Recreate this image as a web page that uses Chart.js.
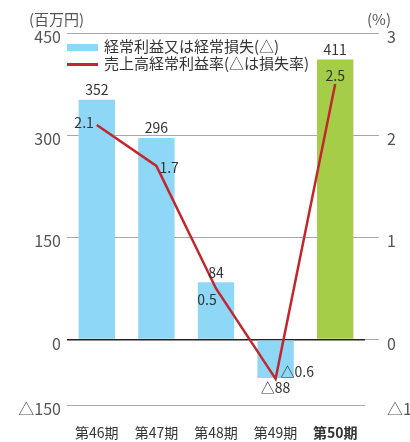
<!DOCTYPE html>
<html lang="ja">
<head>
<meta charset="utf-8">
<script src="https://cdn.jsdelivr.net/npm/chart.js@4/dist/chart.umd.min.js"></script>
<style>
    body { margin: 0; background: #fff; }
    #wrap { position: relative; width: 410px; height: 442px; font-family: "Noto Sans CJK JP", sans-serif; }
    #wrap canvas { position: absolute; left: 0; top: 0; }
    .note { position: absolute; color: #555; font-size: 15px; line-height: 18px; white-space: nowrap; }
    .legend { position: absolute; left: 67px; color: #333; font-size: 15px; line-height: 18px; white-space: nowrap; }
    .legend i { display: inline-block; width: 31px; margin-right: 6px; vertical-align: middle; }
</style>
</head>
<body>
<div id="wrap">
    <canvas id="chart" width="410" height="442"></canvas>
    <div class="note" style="left:29px; top:10px;">(百万円)</div>
    <div class="note" style="left:367px; top:10px;">(%)</div>
    <div class="legend" style="top:37px;"><i style="height:7px; background:#8fd7f7;"></i>経常利益又は経常損失(△)</div>
    <div class="legend" style="top:54px;"><i style="height:3px; background:#c1272d;"></i>売上高経常利益率(△は損失率)</div>
</div>
<script>
const periods = ['第46期', '第47期', '第48期', '第49期', '第50期'];
const ordinaryProfit = [352, 296, 84, -88, 411];      // 百万円
const profitRatio = [2.1, 1.7, 0.5, -0.6, 2.5];      // %
const leftTicks = [-150, 0, 150, 300, 450];
const rightTicks = [-1, 0, 1, 2, 3];

const barColors = ['#8fd7f7', '#8fd7f7', '#8fd7f7', '#8fd7f7', '#a6cd48'];
// where each ratio label sits next to its point: dx, dy, align
const ratioLabelPlace = [[-3, -2, 'right'], [3, 2, 'left'], [-9, 11, 'center'], [5, -7, 'left'], [0, -8, 'center']];

const fmt = v => v < 0 ? '△' + Math.abs(v) : String(v);

// linear scale whose negative side is drawn compressed, as in the printed chart
class SplitScale extends Chart.LinearScale {
    warp(v) {
        const k = this.options.negRatio ?? 0.64;
        return v < 0 ? v * k : v;
    }
    getPixelForValue(value) {
        if (value === null || value === undefined) return NaN;
        const lo = this.warp(this.min), hi = this.warp(this.max);
        return this.getPixelForDecimal((this.warp(value) - lo) / (hi - lo));
    }
    getValueForPixel(pixel) {
        const k = this.options.negRatio ?? 0.64;
        const lo = this.warp(this.min), hi = this.warp(this.max);
        const u = lo + this.getDecimalForPixel(pixel) * (hi - lo);
        return u < 0 ? u / k : u;
    }
}
SplitScale.id = 'split';
SplitScale.defaults = Chart.LinearScale.defaults;
Chart.register(SplitScale);

const valueLabels = {
    id: 'valueLabels',
    afterDatasetsDraw(chart) {
        const ctx = chart.ctx;
        ctx.save();
        ctx.fillStyle = '#333';
        ctx.font = '14px "Noto Sans CJK JP"';
        ctx.textBaseline = 'middle';

        chart.getDatasetMeta(1).data.forEach((bar, i) => {
            const v = ordinaryProfit[i];
            ctx.textAlign = 'center';
            ctx.fillText(fmt(v), bar.x, v >= 0 ? bar.y - 10 : bar.y + 10);
        });
        chart.getDatasetMeta(0).data.forEach((pt, i) => {
            const [dx, dy, align] = ratioLabelPlace[i];
            ctx.textAlign = align;
            ctx.fillText(fmt(profitRatio[i]), pt.x + dx, pt.y + dy);
        });
        ctx.restore();
    }
};

new Chart(document.getElementById('chart'), {
    data: {
        labels: periods,
        datasets: [
            {
                type: 'line',
                label: '売上高経常利益率(△は損失率)',
                data: profitRatio,
                yAxisID: 'y1',
                borderColor: '#c1272d',
                borderWidth: 2.5,
                pointRadius: 0,
                tension: 0,
                order: 0
            },
            {
                type: 'bar',
                label: '経常利益又は経常損失(△)',
                data: ordinaryProfit,
                yAxisID: 'y',
                backgroundColor: barColors,
                barPercentage: 0.61,
                categoryPercentage: 1,
                order: 1
            }
        ]
    },
    options: {
        responsive: false,
        animation: false,
        layout: { autoPadding: false, padding: { top: 33 } },
        plugins: {
            legend: { display: false },
            tooltip: { enabled: false }
        },
        scales: {
            x: {
                grid: { display: false, drawTicks: false },
                border: { display: false },
                ticks: {
                    color: '#333',
                    padding: 19,
                    font: c => ({ family: '"Noto Sans CJK JP"', size: 14, weight: c.index === 4 ? 'bold' : 'normal' })
                },
                afterFit: s => { s.height = 37; }
            },
            y: {
                type: 'split',
                position: 'left',
                negRatio: 0.64,
                min: -150,
                max: 450,
                afterBuildTicks: s => { s.ticks = leftTicks.map(v => ({ value: v })); },
                grid: {
                    drawTicks: false,
                    color: c => c.tick && c.tick.value === 0 ? '#222' : '#a8a8a8',
                    lineWidth: c => c.tick && c.tick.value === 0 ? 1.6 : 1
                },
                border: { display: false },
                ticks: {
                    color: '#555',
                    padding: 6,
                    labelOffset: 4,
                    font: { family: '"Noto Sans CJK JP"', size: 16 },
                    callback: v => fmt(v)
                },
                afterFit: s => { s.width = 67; }
            },
            y1: {
                type: 'split',
                position: 'right',
                negRatio: 0.64,
                min: -1,
                max: 3,
                afterBuildTicks: s => { s.ticks = rightTicks.map(v => ({ value: v })); },
                grid: {
                    drawOnChartArea: false,
                    tickLength: 14,
                    color: c => c.tick && c.tick.value < 0 ? 'rgba(0,0,0,0)' : '#a8a8a8'
                },
                border: { display: false },
                ticks: {
                    color: '#555',
                    padding: 8,
                    labelOffset: 4,
                    font: { family: '"Noto Sans CJK JP"', size: 16 },
                    callback: v => fmt(v)
                },
                afterFit: s => { s.width = 45; }
            }
        }
    },
    plugins: [valueLabels]
});
</script>
</body>
</html>
